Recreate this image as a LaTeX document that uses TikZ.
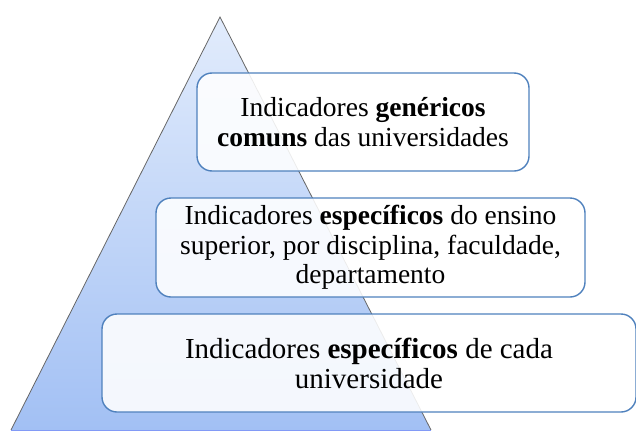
\documentclass[tikz,border=0pt]{standalone}
\usepackage{fontspec}
\setmainfont{Liberation Serif}

\begin{document}
\begin{tikzpicture}[x=1pt, y=-1pt,
    level/.style={draw=boxblue, line width=1.4pt, rounded corners=15pt,
        fill=white, fill opacity=0.88, text opacity=1, align=center,
        font=\fontsize{27.5}{29.5}\selectfont, inner sep=0pt}]
    \definecolor{boxblue}{HTML}{4F81BD}
    \definecolor{toplight}{HTML}{E2ECFC}
    \definecolor{basedark}{HTML}{A2C0F4}
    \useasboundingbox (0, 0) rectangle (636, 431);

    % pyramid
    \shade [top color=toplight, bottom color=basedark] (220, 17) -- (431, 430) -- (11, 430) -- cycle;
    \draw [gray!80!black, line width=0.8pt] (11, 430) -- (220, 17) -- (431, 430);
    \draw [basedark!80!blue, line width=0.8pt] (11, 430) -- (431, 430);

    % levels
    \node [level, minimum width=332, minimum height=98] (top) at (363, 122)
        {Indicadores \textbf{genéricos}\\ \textbf{comuns} das universidades};
    \node [level, minimum width=429, minimum height=99] (mid) at (370.5, 247.5)
        {Indicadores \textbf{específicos} do ensino\\ superior, por disciplina, faculdade,\\ departamento};
    \node [level, minimum width=534, minimum height=98, font=\fontsize{29}{30}\selectfont] (base) at (369, 363)
        {Indicadores \textbf{específicos} de cada\\ universidade};
\end{tikzpicture}
\end{document}
